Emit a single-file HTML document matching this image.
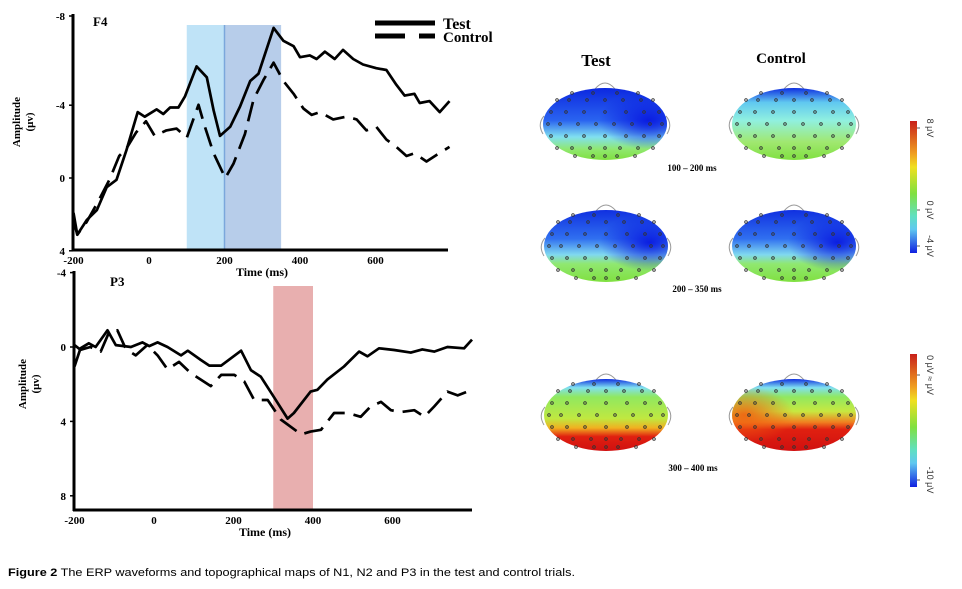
<!DOCTYPE html>
<html><head><meta charset="utf-8">
<style>
html,body{margin:0;padding:0;background:#fff;}
svg{display:block;}
text{font-family:"Liberation Serif",serif;font-weight:bold;fill:#000;}
</style></head>
<body>
<svg id="fig" width="962" height="589" viewBox="0 0 962 589" xmlns="http://www.w3.org/2000/svg">
<defs>
  <linearGradient id="cbar" x1="0" y1="0" x2="0" y2="1">
    <stop offset="0" stop-color="#c8201a"/><stop offset="0.25" stop-color="#f0a020"/>
    <stop offset="0.35" stop-color="#f0e020"/><stop offset="0.55" stop-color="#80e040"/>
    <stop offset="0.72" stop-color="#60e0c0"/><stop offset="0.82" stop-color="#60c8f0"/>
    <stop offset="1" stop-color="#1020e0"/>
  </linearGradient>
  <linearGradient id="g1t" x1="0" y1="0" x2="0" y2="1">
    <stop offset="0" stop-color="#0c28e0"/><stop offset="0.45" stop-color="#2a64f0"/>
    <stop offset="0.68" stop-color="#80e0f0"/><stop offset="0.85" stop-color="#90e870"/><stop offset="1" stop-color="#80e040"/>
  </linearGradient>
  <linearGradient id="g1c" x1="0" y1="0" x2="0" y2="1">
    <stop offset="0" stop-color="#1030e0"/><stop offset="0.2" stop-color="#60c8f0"/>
    <stop offset="0.45" stop-color="#90f0e0"/><stop offset="0.75" stop-color="#a0e870"/><stop offset="1" stop-color="#80e040"/>
  </linearGradient>
  <linearGradient id="g2" x1="0" y1="0" x2="0" y2="1">
    <stop offset="0" stop-color="#1030e0"/><stop offset="0.4" stop-color="#3070f0"/>
    <stop offset="0.62" stop-color="#80d8f0"/><stop offset="0.75" stop-color="#90e870"/><stop offset="1" stop-color="#80e040"/>
  </linearGradient>
  <linearGradient id="g3t" x1="0" y1="0" x2="0" y2="1">
    <stop offset="0" stop-color="#1030e0"/><stop offset="0.12" stop-color="#80e0f0"/>
    <stop offset="0.25" stop-color="#90e860"/><stop offset="0.55" stop-color="#c0e840"/>
    <stop offset="0.68" stop-color="#f0b020"/><stop offset="0.8" stop-color="#e02010"/><stop offset="1" stop-color="#d01010"/>
  </linearGradient>
  <linearGradient id="g3c" x1="0" y1="0" x2="0" y2="1">
    <stop offset="0" stop-color="#1030e0"/><stop offset="0.12" stop-color="#80e0f0"/>
    <stop offset="0.25" stop-color="#90e860"/><stop offset="0.45" stop-color="#c8e840"/>
    <stop offset="0.6" stop-color="#f08020"/><stop offset="0.7" stop-color="#e02010"/><stop offset="1" stop-color="#d01010"/>
  </linearGradient>
  <radialGradient id="blueRight" cx="0.85" cy="0.45" r="0.4">
    <stop offset="0" stop-color="#0818e0" stop-opacity="0.95"/><stop offset="1" stop-color="#0818e0" stop-opacity="0"/>
  </radialGradient>
  <radialGradient id="orangeLeft" cx="0.1" cy="0.5" r="0.4">
    <stop offset="0" stop-color="#f06010" stop-opacity="0.9"/><stop offset="1" stop-color="#f06010" stop-opacity="0"/>
  </radialGradient>
</defs>
<g id="top-chart"></g>
<g id="bot-chart"></g>
<g id="topo"></g>
<text x="8" y="576" textLength="567" lengthAdjust="spacingAndGlyphs" style="font-family:'Liberation Sans',sans-serif;font-weight:normal;font-size:11px"><tspan font-weight="bold">Figure 2</tspan> The ERP waveforms and topographical maps of N1, N2 and P3 in the test and control trials.</text>
</svg>
<script>
// ---- F4 data ----
const f4TestTimes = [-200,-190,-165,-138,-112,-86,-60,-30,-11,20,38,56,78,95,126,153,171,188,215,241,268,290,330,356,383,400,426,444,466,492,514,541,567,602,629,655,677,703,717,743,770,796];
const f4TestValues = [1.9,3.1,2.3,1.75,0.5,0.1,-1.5,-3.6,-3.35,-3.75,-3.5,-3.85,-3.85,-4.45,-6.1,-5.5,-3.7,-2.3,-2.8,-3.9,-5.3,-5.7,-8.2,-7.5,-7.2,-6.6,-6.7,-6.5,-6.9,-6.5,-7.0,-6.5,-6.2,-6.0,-5.9,-5.1,-4.5,-4.6,-4.1,-4.2,-3.6,-4.2];
const f4CtrlTimes = [-200,-190,-165,-135,-105,-79,-60,-34,-8,15,46,73,100,131,148,171,202,224,254,277,303,330,356,383,409,431,453,488,523,550,576,602,629,655,682,703,735,761,796];
const f4CtrlValues = [2.3,3.1,2.4,1.3,0.1,-1.2,-1.6,-2.5,-3.1,-2.3,-2.6,-2.7,-2.2,-4.0,-2.8,-1.35,0,-0.8,-2.4,-4.3,-5.35,-6.3,-5.3,-4.6,-3.8,-3.45,-3.6,-3.2,-3.35,-3.2,-2.6,-2.8,-2.1,-1.7,-1.2,-1.35,-0.9,-1.25,-1.7];
const f4XTicks = [-200,0,200,400,600];
const f4YTicks = [-8,-4,0,4];
const f4Windows = [[100,200],[200,350]];
// ---- P3 data ----
const p3TestTimes = [-200,-185,-164,-147,-117,-96,-58,-29,-12,9,34,68,85,118,139,169,219,244,269,302,336,352,394,411,436,478,516,537,566,604,646,675,705,738,780,800];
const p3TestValues = [1.05,0.07,-0.2,0,-0.9,-0.1,0,-0.25,-0.05,-0.25,0,0.45,0.2,0.7,1.0,1.0,0.2,1.25,1.6,2.7,3.85,3.55,2.4,2.3,1.75,1.05,0.25,0.5,0.07,0.16,0.3,0.13,0.25,0,0.07,-0.4];
const p3CtrlTimes = [-200,-185,-160,-134,-113,-92,-71,-46,-17,9,34,63,92,143,169,202,227,252,286,319,370,394,420,453,487,520,545,571,596,621,655,680,705,738,764,800];
const p3CtrlValues = [-0.1,0.15,0,0.25,-0.8,-0.9,0.1,0.45,-0.1,0.45,1.2,0.8,1.4,2.1,1.5,1.5,1.85,2.85,2.85,3.9,4.7,4.55,4.45,3.55,3.55,3.75,3.2,2.95,3.4,3.5,3.4,3.75,3.2,2.4,2.6,2.3];
const p3XTicks = [-200,0,200,400,600];
const p3YTicks = [-4,0,4,8];
const p3Windows = [[300,400]];

const NS = "http://www.w3.org/2000/svg";
function mk(parent, tag, attrs, txt){
  const e = document.createElementNS(NS, tag);
  for (const k in attrs) e.setAttribute(k, attrs[k]);
  if (txt !== undefined) e.textContent = txt;
  parent.appendChild(e); return e;
}

function drawChart(g, cfg){
  const X = t => cfg.x0 + cfg.kx * t;
  const Y = v => cfg.y0 + cfg.ky * v;
  cfg.windows.forEach((w, i) => {
    const r = mk(g, 'rect', {x: X(w[0]), y: cfg.shadeTop, width: X(w[1]) - X(w[0]), height: cfg.axisY - cfg.shadeTop, fill: cfg.shadeColors[i]});
    
    
  });
  if (cfg.divider){
    const d = mk(g, 'line', {x1: X(cfg.divider), x2: X(cfg.divider), y1: cfg.shadeTop, y2: cfg.axisY, stroke: '#7ba7dc', 'stroke-width': 1.5});
    
    
  }
  const ya = mk(g, 'line', {x1: cfg.axisX, x2: cfg.axisX, y1: cfg.axisTop, y2: cfg.axisY + 1, stroke: '#000', 'stroke-width': 3});
  
  
  const xa = mk(g, 'line', {x1: cfg.axisX - 1, x2: cfg.axisRight, y1: cfg.axisY, y2: cfg.axisY, stroke: '#000', 'stroke-width': 3});
  
  
  cfg.yTicks.forEach(v => {
    const yy = cfg.yTickPos ? cfg.yTickPos(v) : Y(v);
    mk(g, 'line', {x1: cfg.axisX - 4, x2: cfg.axisX, y1: yy, y2: yy, stroke: '#000', 'stroke-width': 1.5});
    const t = mk(g, 'text', {x: cfg.axisX - 8, y: yy + 4, 'text-anchor': 'end', 'font-size': 11}, String(v));
    
    
  });
  cfg.xTicks.forEach(tv => {
    const t = mk(g, 'text', {x: X(tv), y: cfg.axisY + 14, 'text-anchor': 'middle', 'font-size': 11}, String(tv));
    
    
  });
  const xt = mk(g, 'text', {x: cfg.xTitleX, y: cfg.axisY + 26, 'text-anchor': 'middle', 'font-size': 12}, 'Time (ms)');
  
  
  const yt = mk(g, 'text', {transform: 'translate(' + cfg.yTitleX + ',' + cfg.yTitleY + ') rotate(-90)', 'text-anchor': 'middle', 'font-size': 11});
  
  
  mk(yt, 'tspan', {x: 0, dy: 0}, 'Amplitude');
  mk(yt, 'tspan', {x: 0, dy: 13}, '(\u03bcv)');
  const lab = mk(g, 'text', {x: cfg.labelX, y: cfg.labelY, 'font-size': 13}, cfg.label);
  
  
  function line(times, vals, dash, name){
    const pts = times.map((t, i) => X(t).toFixed(1) + ',' + Y(vals[i]).toFixed(1)).join(' ');
    const p = mk(g, 'polyline', {points: pts, fill: 'none', stroke: '#000', 'stroke-width': 2.7, 'stroke-linejoin': 'round', 'stroke-dasharray': dash});
    
    
  }
  line(cfg.ctrlT, cfg.ctrlV, '20 9', 'control-line');
  line(cfg.testT, cfg.testV, 'none', 'test-line');
}

drawChart(document.getElementById('top-chart'), {
  x0: 149, kx: 0.3775, y0: 178, ky: 18.3,
  axisX: 73, axisY: 250, axisTop: 14, axisRight: 448,
  shadeTop: 25, windows: f4Windows, shadeColors: ['#bfe3f7', '#b7cdea'], divider: 200,
  yTicks: f4YTicks, yTickPos: v => v === -8 ? 16 : 178 + 18.2 * v,
  xTicks: f4XTicks, xTitleX: 262, yTitleX: 20, yTitleY: 122,
  label: 'F4', labelX: 93, labelY: 26,
  testT: f4TestTimes, testV: f4TestValues, ctrlT: f4CtrlTimes, ctrlV: f4CtrlValues
});
drawChart(document.getElementById('bot-chart'), {
  x0: 154, kx: 0.3975, y0: 347, ky: 18.6,
  axisX: 74, axisY: 510, axisTop: 271, axisRight: 472,
  shadeTop: 286, windows: p3Windows, shadeColors: ['#e8afaf'],
  yTicks: p3YTicks, xTicks: p3XTicks, xTitleX: 265, yTitleX: 26, yTitleY: 384,
  label: 'P3', labelX: 110, labelY: 286,
  testT: p3TestTimes, testV: p3TestValues, ctrlT: p3CtrlTimes, ctrlV: p3CtrlValues
});

const svg = document.getElementById('fig');
const leg = mk(svg, 'g', {});


mk(leg, 'line', {x1: 375, x2: 435, y1: 23, y2: 23, stroke: '#000', 'stroke-width': 5});
mk(leg, 'line', {x1: 375, x2: 435, y1: 36, y2: 36, stroke: '#000', 'stroke-width': 5, 'stroke-dasharray': '30 14'});
const lt1 = mk(leg, 'text', {x: 443, y: 29, 'font-size': 16}, 'Test');


const lt2 = mk(leg, 'text', {x: 443, y: 42, 'font-size': 15}, 'Control');



const topo = document.getElementById('topo');
function head(cx, cy, fill, extra, name){
  const g = mk(topo, 'g', {});
  
  
  mk(g, 'path', {d: `M${cx-10},${cy-35} Q${cx},${cy-47} ${cx+10},${cy-35}`, fill: 'none', stroke: '#999', 'stroke-width': 1});
  mk(g, 'path', {d: `M${cx-61},${cy-8} Q${cx-68},${cy} ${cx-62},${cy+10}`, fill: 'none', stroke: '#999', 'stroke-width': 1});
  mk(g, 'path', {d: `M${cx+61},${cy-8} Q${cx+68},${cy} ${cx+62},${cy+10}`, fill: 'none', stroke: '#999', 'stroke-width': 1});
  mk(g, 'ellipse', {cx: cx, cy: cy, rx: 62, ry: 36, fill: fill});
  if (extra) mk(g, 'ellipse', {cx: cx, cy: cy, rx: 62, ry: 36, fill: extra});
  const rows = [[-31,[-0.55,-0.2,0.2,0.55]],[-24,[-0.8,-0.6,-0.3,0,0.3,0.6,0.8]],[-12,[-0.9,-0.65,-0.35,0,0.35,0.65,0.9]],[0,[-0.95,-0.75,-0.45,-0.15,0.15,0.45,0.75,0.95]],[12,[-0.9,-0.65,-0.35,0,0.35,0.65,0.9]],[24,[-0.8,-0.55,-0.25,0,0.25,0.55,0.8]],[32,[-0.5,-0.2,0,0.2,0.5]]];
  rows.forEach(r => r[1].forEach(f => mk(g, 'circle', {cx: cx + f * 60, cy: cy + r[0], r: 1.3, fill: 'none', stroke: '#333', 'stroke-width': 0.9})));
}
head(605, 124, 'url(#g1t)', 'url(#blueRight)', 'topo-test-100-200');
head(794, 124, 'url(#g1c)', null, 'topo-control-100-200');
head(606, 246, 'url(#g2)', 'url(#blueRight)', 'topo-test-200-350');
head(794, 246, 'url(#g2)', 'url(#blueRight)', 'topo-control-200-350');
head(606, 415, 'url(#g3t)', null, 'topo-test-300-400');
head(794, 415, 'url(#g3c)', 'url(#orangeLeft)', 'topo-control-300-400');

function txt(x, y, s, size, name){
  const t = mk(topo, 'text', {x: x, y: y, 'text-anchor': 'middle', 'font-size': size}, s);
  
  
}
txt(596, 66, 'Test', 17, 'column-title-test');
txt(781, 63, 'Control', 15, 'column-title-control');
txt(692, 171, '100 \u2013 200 ms', 9, 'window-label-100-200');
txt(697, 292, '200 \u2013 350 ms', 9, 'window-label-200-350');
txt(693, 471, '300 \u2013 400 ms', 9, 'window-label-300-400');

function cbar(y1, y2, labels, name){
  const g = mk(topo, 'g', {});
  
  
  mk(g, 'rect', {x: 910, y: y1, width: 7, height: y2 - y1, fill: 'url(#cbar)'});
  labels.forEach(l => {
    mk(g, 'line', {x1: 917, x2: 920, y1: l[0], y2: l[0], stroke: '#333', 'stroke-width': 0.8});
    mk(g, 'text', {transform: `translate(927,${l[0]}) rotate(90)`, 'text-anchor': 'middle', 'font-size': 9, style: 'font-family:"Liberation Sans",sans-serif;font-weight:normal;fill:#333'}, l[1]);
  });
}
cbar(121, 253, [[128, '8 \u03bcV'], [210, '0 \u03bcV'], [246, '-4 \u03bcV']], 'colorbar-n1-n2');
cbar(354, 487, [[375, '0 \u03bcV \u2248 \u03bcV'], [480, '-10 \u03bcV']], 'colorbar-p3');
</script>
</body></html>
